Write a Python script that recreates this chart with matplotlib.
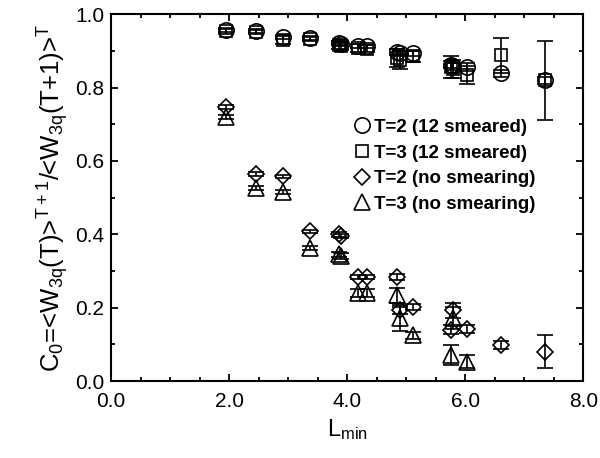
import numpy as np
import matplotlib
matplotlib.use("Agg")
import matplotlib.pyplot as plt
from matplotlib.ticker import MultipleLocator, FormatStrFormatter

plt.rcParams['font.family'] = ['Liberation Sans', 'DejaVu Sans']
plt.rcParams['mathtext.default'] = 'regular'

# L_min values of the data points
x_all = [1.95, 2.45, 2.92, 3.37, 3.87, 3.9, 4.18, 4.33, 4.84, 4.9, 5.12, 5.76, 5.8, 6.03, 6.6, 7.36]

# T=2 (12 smeared)
y_t2s = [0.957, 0.955, 0.937, 0.935, 0.921, 0.918, 0.914, 0.912, 0.897, 0.893, 0.893, 0.862, 0.858, 0.856, 0.839, 0.82]
e_t2s = [0.005, 0.005, 0.005, 0.005, 0.005, 0.005, 0.005, 0.005, 0.008, 0.008, 0.006, 0.01, 0.01, 0.01, 0.01, 0.01]

# T=3 (12 smeared)
y_t3s = [0.953, 0.952, 0.93, 0.932, 0.915, 0.912, 0.908, 0.906, 0.88, 0.875, 0.885, 0.855, 0.85, 0.835, 0.888, 0.82]
e_t3s = [0.006, 0.006, 0.01, 0.006, 0.01, 0.01, 0.01, 0.01, 0.025, 0.025, 0.015, 0.03, 0.025, 0.025, 0.047, 0.108]

# T=2 (no smearing)
y_t2n = [0.747, 0.565, 0.558, 0.408, 0.40, 0.395, 0.284, 0.284, 0.284, 0.193, 0.203, 0.14, 0.193, 0.142, 0.098, 0.08]
e_t2n = [0.005, 0.005, 0.005, 0.005, 0.006, 0.006, 0.006, 0.006, 0.008, 0.01, 0.008, 0.012, 0.02, 0.01, 0.01, 0.045]

# T=3 (no smearing), no points beyond 6.03
x_t3n = x_all[:14]
y_t3n = [0.72, 0.527, 0.515, 0.362, 0.345, 0.342, 0.24, 0.24, 0.234, 0.171, 0.125, 0.071, 0.171, 0.053]
e_t3n = [0.006, 0.006, 0.006, 0.006, 0.008, 0.008, 0.01, 0.01, 0.02, 0.035, 0.01, 0.027, 0.03, 0.018]

fig = plt.figure(figsize=(6.0, 4.58), dpi=100)
ax = fig.add_axes([0.185, 0.168, 0.787, 0.801])

series = [
    (x_all, y_t2s, e_t2s, 'o', 11, 'T=2 (12 smeared)'),
    (x_all, y_t3s, e_t3s, 's', 9, 'T=3 (12 smeared)'),
    (x_all, y_t2n, e_t2n, 'D', 8.5, 'T=2 (no smearing)'),
    (x_t3n, y_t3n, e_t3n, '^', 11, 'T=3 (no smearing)'),
]

handles = []
for xs, ys, es, mk, ms, lab in series:
    ax.errorbar(xs, ys, yerr=es, fmt='none', ecolor='black', elinewidth=1.2,
                capsize=6, capthick=1.2)
    h, = ax.plot(xs, ys, linestyle='none', marker=mk, markersize=ms,
                 markerfacecolor='none', markeredgecolor='black',
                 markeredgewidth=1.2, label=lab)
    handles.append(h)

ax.set_xlim(0, 8)
ax.set_ylim(0, 1)
ax.xaxis.set_major_locator(MultipleLocator(2))
ax.xaxis.set_minor_locator(MultipleLocator(0.5))
ax.yaxis.set_major_locator(MultipleLocator(0.2))
ax.yaxis.set_minor_locator(MultipleLocator(0.1))
ax.xaxis.set_major_formatter(FormatStrFormatter('%.1f'))
ax.yaxis.set_major_formatter(FormatStrFormatter('%.1f'))
ax.tick_params(which='both', direction='in', top=True, right=True, width=1.3,
               labelsize=15)
ax.tick_params(which='major', length=5, pad=5)
ax.tick_params(axis='x', which='major', pad=8)
ax.tick_params(which='minor', length=3)
for sp in ax.spines.values():
    sp.set_linewidth(1.5)

ax.set_xlabel(r'L$_{min}$', fontsize=17, labelpad=4)
ax.set_ylabel(r'C$_0$=<W$_{3q}$(T)>$^{T+1}$/<W$_{3q}$(T+1)>$^T$', fontsize=18.5, labelpad=3)

ax.legend(handles=handles, loc='upper left', bbox_to_anchor=(0.50, 0.735),
          frameon=False, handlelength=0.8, handletextpad=0.25, labelspacing=0.45,
          borderaxespad=0, prop={'weight': 'bold', 'size': 13.5})

fig.savefig('out.png', dpi=100)
